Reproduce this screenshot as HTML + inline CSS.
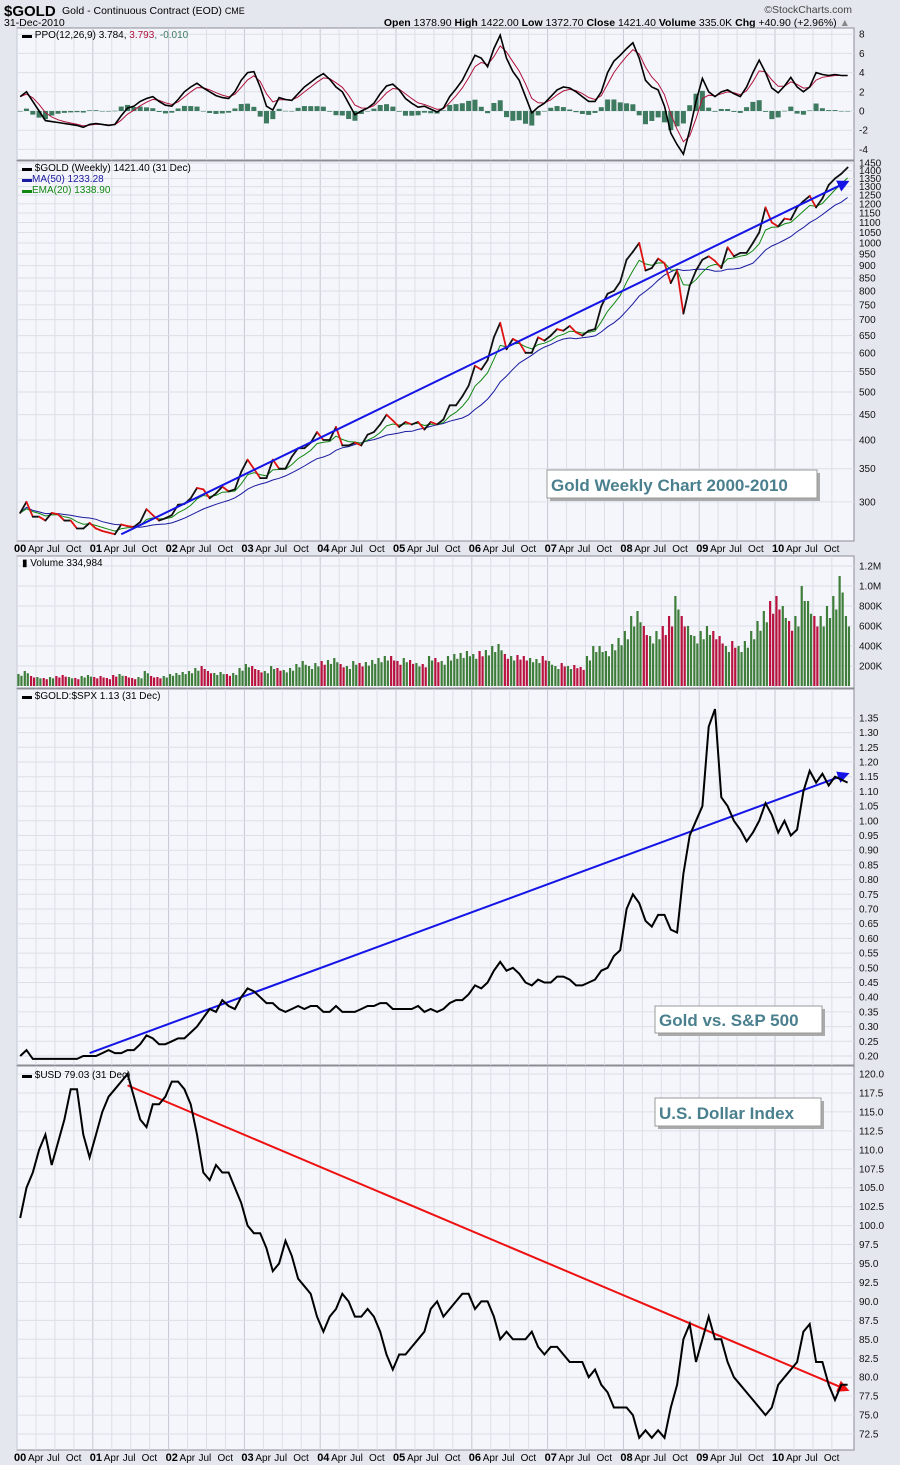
<!DOCTYPE html>
<html><head><meta charset="utf-8"><style>
body{margin:0;background:#e4e7ee;}
svg{display:block;font-family:"Liberation Sans",sans-serif;}
</style></head><body>
<svg id="c" width="900" height="1465" viewBox="0 0 900 1465" xmlns="http://www.w3.org/2000/svg">
<defs>
<marker id="ab" markerWidth="6" markerHeight="6" refX="5" refY="3" orient="auto" markerUnits="strokeWidth"><path d="M0,0 L6,3 L0,6 z" fill="#1414e6"/></marker>
<marker id="ar" markerWidth="6" markerHeight="6" refX="5" refY="3" orient="auto" markerUnits="strokeWidth"><path d="M0,0 L6,3 L0,6 z" fill="#ee1111"/></marker>
</defs>
<rect x="0" y="0" width="900" height="1465" fill="#e4e7ee"/>
<text x="4" y="16" font-size="15" font-weight="bold">$GOLD</text>
<text x="62" y="14" font-size="10.5">Gold - Continuous Contract (EOD) <tspan font-size="9">CME</tspan></text>
<text x="852" y="13" font-size="10.5" text-anchor="end" fill="#444">©StockCharts.com</text>
<text x="4" y="26" font-size="10.5">31-Dec-2010</text>
<text x="850" y="26" font-size="10.5" text-anchor="end"><tspan font-weight="bold">Open</tspan> 1378.90 <tspan font-weight="bold">High</tspan> 1422.00 <tspan font-weight="bold">Low</tspan> 1372.70 <tspan font-weight="bold">Close</tspan> 1421.40 <tspan font-weight="bold">Volume</tspan> 335.0K <tspan font-weight="bold">Chg</tspan> +40.90 (+2.96%) <tspan fill="#888">▲</tspan></text>
<g id="g"></g>
</svg>
<script>
const gold=[285,300,280,280,275,285,283,275,275,265,265,272,
265,262,260,258,270,268,267,273,290,282,275,278,
282,296,297,305,320,318,305,312,322,315,318,345,
365,350,335,335,365,350,350,370,385,385,395,415,
400,400,425,390,390,395,390,410,415,430,450,438,
425,435,430,435,420,435,430,440,470,470,490,515,
565,555,580,645,690,610,640,630,600,600,645,635,
650,670,665,680,660,650,665,670,745,790,800,835,
925,960,1000,880,890,930,910,830,880,720,820,880,
925,940,920,890,980,940,955,955,1000,1050,1180,1100,
1080,1120,1115,1180,1215,1245,1180,1230,1310,1350,1380,1421];
const ppo=[1.5,2,1,0,-1,-1.1,-1.2,-1.3,-1.4,-1.5,-1.7,-1.4,
-1.3,-1.4,-1.5,-1.4,-0.5,0.3,0.5,1.0,1.3,1.5,1.0,0.6,
0.5,1.2,2.0,2.5,2.9,2.4,2.0,1.6,1.4,1.3,2.0,3.2,
4.0,4.1,2.5,0.5,0.1,1.4,1.2,1.1,1.8,2.5,3.0,3.5,
3.9,3.3,2.5,2.0,0.8,-0.4,0.0,0.3,0.8,1.8,2.6,2.8,
2.2,1.3,0.8,0.4,0.5,0.2,-0.1,0.3,1.5,2.3,3.2,4.5,
5.8,5.5,4.6,6.5,7.9,5.5,4.1,3.2,1.5,-0.2,0.4,0.8,
1.5,2.2,2.5,2.4,2.0,1.5,1.0,1.0,2.0,4.0,5.2,5.8,
6.5,7.1,5.5,3.2,2.5,2.2,0.5,-2.3,-3.5,-4.5,-2.0,1.0,
3.4,2.0,1.5,2.0,2.2,1.8,1.5,2.5,4.0,5.3,4.0,2.4,
1.9,2.6,3.5,2.5,2.0,2.5,4.0,3.8,3.7,3.8,3.7,3.7];
const volume=[120,150,100,90,80,90,100,110,90,80,100,110,
90,100,80,110,120,100,80,90,150,100,90,100,
120,130,140,150,180,200,150,130,140,120,130,180,
220,200,160,150,200,180,160,180,220,250,200,230,
250,260,280,220,200,250,230,240,260,280,300,300,
250,280,260,230,220,300,280,250,300,320,330,350,
320,350,360,400,420,320,300,310,300,280,270,300,
250,200,230,200,210,190,300,400,400,350,420,480,
550,700,750,600,500,550,600,700,900,700,600,500,
550,600,550,500,400,450,400,450,550,650,750,850,
900,800,650,700,1000,850,700,700,800,900,1100,700];
const ratio=[0.20,0.22,0.19,0.19,0.19,0.19,0.19,0.19,0.19,0.19,0.20,0.20,
0.20,0.21,0.22,0.21,0.21,0.22,0.22,0.24,0.27,0.26,0.24,0.24,
0.25,0.26,0.26,0.28,0.30,0.33,0.36,0.35,0.39,0.37,0.36,0.40,
0.43,0.42,0.40,0.38,0.38,0.36,0.35,0.36,0.37,0.36,0.37,0.37,
0.35,0.35,0.37,0.35,0.35,0.35,0.36,0.37,0.37,0.38,0.38,0.36,
0.36,0.36,0.36,0.37,0.35,0.36,0.35,0.36,0.38,0.39,0.39,0.41,
0.44,0.43,0.45,0.49,0.52,0.49,0.50,0.48,0.45,0.44,0.46,0.45,
0.45,0.47,0.47,0.46,0.44,0.44,0.45,0.46,0.49,0.50,0.54,0.56,
0.70,0.75,0.72,0.66,0.64,0.68,0.68,0.63,0.62,0.82,0.95,1.00,
1.05,1.32,1.38,1.08,1.05,1.00,0.97,0.93,0.96,1.00,1.06,1.02,
0.96,1.00,0.95,0.97,1.10,1.17,1.13,1.16,1.12,1.15,1.14,1.13];
const usd=[101,105,107,110,112,108,111,114,118,118,112,109,
112,115,117,118,119,120,117,114,113,116,116,117,
119,119,118,116,112,107,106,108,107,107,105,103,
100,99,99,97,94,95,98,96,93,92,91,88,
86,88,89,91,90,88,88,89,88,86,83,81,
83,83,84,85,86,89,90,88,89,90,91,91,
89,90,90,88,85,86,85,85,85,86,84,83,
84,84,83,82,82,82,80,81,79,78,76,76,
76,75,72,73,72,73,72,76,79,85,87,82,
85,88,85,85,82,80,79,78,77,76,75,76,
79,80,81,82,86,87,82,82,79,77,79,79];
const goldTicks=[300,350,400,450,500,550,600,650,700,750,800,850,900,950,1000,1050,1100,1150,1200,1250,1300,1350,1400,1450];
const ppoTicks=[-4,-2,0,2,4,6,8];
const volTicks=[200,400,600,800,1000,1200];
const volTickLabels=["200K","400K","600K","800K","1.0M","1.2M"];
const ratioTicks=[];for(let v=20;v<=135;v+=5)ratioTicks.push(v/100);
const usdTicks=[];for(let v=72.5;v<=120;v+=2.5)usdTicks.push(v);
const yearLabels=["00","01","02","03","04","05","06","07","08","09","10"];
const monthLabels=["Apr","Jul","Oct"];
const goldTrend=[[16,258],[131,1330]];
const ratioTrend=[[11,0.21],[131,1.16]];
const usdTrend=[[17,118.5],[131,78.3]];

const NS="http://www.w3.org/2000/svg";
const G=document.getElementById('g');
function el(t,a,p){const e=document.createElementNS(NS,t);for(const k in a)e.setAttribute(k,a[k]);(p||G).appendChild(e);return e;}
const L=17,R=854,YW=75.8;
const xM=i=>L+(i+0.5)/12*YW;
const xT=m=>L+m/12*YW;
const yP=v=>111-v*9.6;
const yG=v=>243-215*Math.log(v/1000);
const yV=v=>686-v*0.1;
const yR=v=>1056-(v-0.2)*294;
const yU=v=>1074+(120-v)*7.58;

function panel(name,top,bot){
  const r=el('rect',{x:L,y:top,width:R-L,height:bot-top,fill:'#f5f6fb',stroke:'#8a8d96','stroke-width':1});
  
  
  for(let q=0;q<44;q++){
    const x=xT(q*3);
    const ln=el('line',{x1:x,x2:x,y1:top,y2:bot,stroke:q%4==0?'#c4c8d2':'#dcdfe7','stroke-width':1});
    
    
  }
}
function hTicks(name,ticks,fy,labels){
  ticks.forEach((v,i)=>{
    const y=fy(v);
    const ln=el('line',{x1:L,x2:R,y1:y,y2:y,stroke:'#dcdfe7'});
    
    
    const t=el('text',{x:R+5,y:y+3.5,'font-size':10,fill:'#111'});
    t.textContent=labels?labels[i]:String(v);
    
    
  });
}
function pathOf(arr,fy){return arr.map((v,i)=>(i?'L':'M')+xM(i).toFixed(1)+','+fy(v).toFixed(1)).join(' ');}
function xAxis(y){
  yearLabels.forEach((yl,k)=>{
    const t=el('text',{x:xT(k*12)-3,y:y,'font-size':11,'font-weight':'bold'});
    t.textContent=yl;
    
    
    monthLabels.forEach((ml,j)=>{
      const m=el('text',{x:xT(k*12+(j+1)*3)-8,y:y,'font-size':10});
      m.textContent=ml;
      
      
    });
  });
}
function legend(y,parts){
  const t=el('text',{x:22,y:y,'font-size':10});
  
  
  parts.forEach(p=>{const s=el('tspan',{fill:p[1]},t);s.textContent=p[0];});
}
function note(x,y,w,h,txt,name){
  el('rect',{x:x+3,y:y+3,width:w,height:h,fill:'#aaa'});
  const r=el('rect',{x:x,y:y,width:w,height:h,fill:'#fff',stroke:'#999'});
  
  
  const t=el('text',{x:x+4,y:y+h-7,'font-size':17,'font-weight':'bold',fill:'#4a7f8e'});
  t.textContent=txt;
  
  
}
function trend(pts,fy,col,mk,name){
  const l=el('line',{x1:xM(pts[0][0]),y1:fy(pts[0][1]),x2:xM(pts[1][0]),y2:fy(pts[1][1]),stroke:col,'stroke-width':2,'marker-end':'url(#'+mk+')'});
  
  
}

// PPO panel
panel('ppo-panel',28,160);
hTicks('ppo',ppoTicks,yP);
const sig=[];ppo.forEach((v,i)=>sig.push(i?sig[i-1]+0.5*(v-sig[i-1]):v));
ppo.forEach((v,i)=>{
  const h=v-sig[i];const y0=yP(0),y1=yP(h);
  const b=el('rect',{x:xM(i)-2.5,y:Math.min(y0,y1),width:5,height:Math.max(0.5,Math.abs(y1-y0)),fill:'#3d7a5f'});
  
  
});
let p=el('path',{d:pathOf(sig,yP),fill:'none',stroke:'#b0123c','stroke-width':1});

p=el('path',{d:pathOf(ppo,yP),fill:'none',stroke:'#000','stroke-width':1.6});

legend(38,[['▬ PPO(12,26,9) 3.784, ','#000'],['3.793','#b0123c'],[', -0.010','#3d7a5f']]);

// Price panel
panel('price-panel',161,541);
hTicks('price',goldTicks,yG);
const ma=gold.map((v,i)=>{const s=gold.slice(Math.max(0,i-11),i+1);return s.reduce((a,b)=>a+b,0)/s.length;});
const ema=[];gold.forEach((v,i)=>ema.push(i?ema[i-1]+0.36*(v-ema[i-1]):v));
p=el('path',{d:pathOf(ma,yG),fill:'none',stroke:'#1a1aa0','stroke-width':1});

p=el('path',{d:pathOf(ema,yG),fill:'none',stroke:'#118811','stroke-width':1});

gold.forEach((v,i)=>{if(!i)return;
  const s=el('line',{x1:xM(i-1),y1:yG(gold[i-1]),x2:xM(i),y2:yG(v),stroke:v<gold[i-1]?'#dd1111':'#111','stroke-width':1.8,'stroke-linecap':'round'});
  
});
trend(goldTrend,yG,'#1414e6','ab','gold-trendline');
legend(171,[['▬ $GOLD (Weekly) 1421.40 (31 Dec)','#000']]);
legend(182,[['▬MA(50) 1233.28','#1a1aa0']]);
legend(193,[['▬EMA(20) 1338.90','#118811']]);
note(547,470,270,28,'Gold Weekly Chart 2000-2010','gold-weekly-note');
xAxis(552);

// Volume panel
panel('volume-panel',556,688);
hTicks('volume',volTicks,yV,volTickLabels);
volume.forEach((v,i)=>{
  const up=!i||gold[i]>=gold[i-1];
  for(let k=0;k<2;k++){
    const b=el('rect',{x:xM(i)-2.8+k*3,y:yV(v*(k?0.85:1)),width:2.2,height:686-yV(v*(k?0.85:1)),fill:up?'#3e7d3a':'#b8123f'});
    
    
  }
});
legend(566,[['▮ Volume 334,984','#000']]);

// Ratio panel
panel('ratio-panel',689,1065);
hTicks('ratio',ratioTicks,yR,ratioTicks.map(v=>v.toFixed(2)));
trend(ratioTrend,yR,'#1414e6','ab','ratio-trendline');
p=el('path',{d:pathOf(ratio,yR),fill:'none',stroke:'#000','stroke-width':2});

legend(699,[['▬ $GOLD:$SPX 1.13 (31 Dec)','#000']]);
note(655,1006,167,27,'Gold vs. S&P 500','gold-vs-spx-note');

// USD panel
panel('usd-panel',1066,1450);
hTicks('usd',usdTicks,yU,usdTicks.map(v=>v.toFixed(1)));
trend(usdTrend,yU,'#ee1111','ar','usd-trendline');
p=el('path',{d:pathOf(usd,yU),fill:'none',stroke:'#000','stroke-width':2});

legend(1078,[['▬ $USD 79.03 (31 Dec)','#000']]);
note(655,1098,166,28,'U.S. Dollar Index','usd-note');
xAxis(1461);
</script>
</body></html>
